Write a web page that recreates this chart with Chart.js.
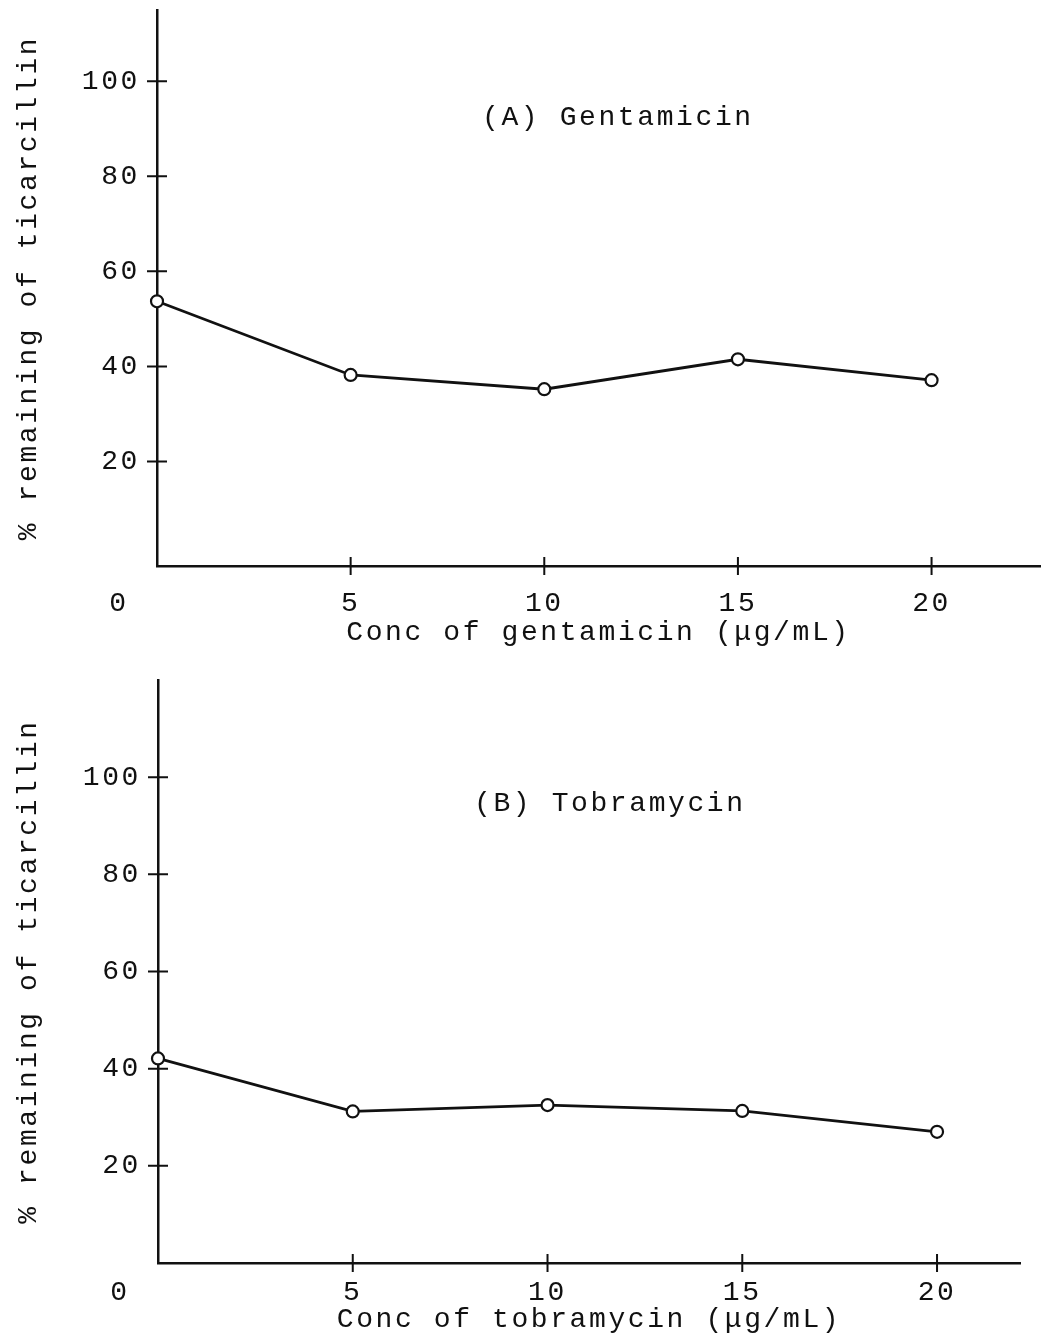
<!DOCTYPE html>
<html><head><meta charset="utf-8">
<script src="https://cdn.jsdelivr.net/npm/chart.js@4/dist/chart.umd.min.js"></script>
<style>
html,body{margin:0;padding:0;background:#fff;}
#wrap{position:relative;width:1052px;height:1336px;background:#fff;}
canvas{position:absolute;left:0;}
#cA{top:0}
#cB{top:668px}
</style></head><body>
<div id="wrap"><canvas id="cA" width="1052" height="668"></canvas><canvas id="cB" width="1052" height="668"></canvas></div>
<script>
// ---- data ----
const concentrations = [0, 5, 10, 15, 20];
const gentamicinRemaining = [53.7, 38.2, 35.2, 41.5, 37.1];
const tobramycinRemaining = [42.1, 31.2, 32.5, 31.3, 27.0];
const xTickValues = [5, 10, 15, 20];
const yTickValues = [20, 40, 60, 80, 100];
const originLabel = '0';
const yAxisTitle = '% remaining of ticarcillin';
const panelALabel = '(A) Gentamicin';
const panelBLabel = '(B) Tobramycin';
const panelAXTitle = 'Conc of gentamicin (μg/mL)';
const panelBXTitle = 'Conc of tobramycin (μg/mL)';

// ---- style ----
const INK = '#111';
const FONT = '"Liberation Mono", "DejaVu Sans Mono", monospace';
const FSIZE = 28;
const SPACING = '2.6px';

const spacingPlugin = {
  id: 'spacing',
  beforeUpdate(c) { c.ctx.letterSpacing = SPACING; },
  beforeLayout(c) { c.ctx.letterSpacing = SPACING; },
  beforeDraw(c) { c.ctx.letterSpacing = SPACING; }
};

const decoPlugin = {
  id: 'deco',
  afterDraw(c, args, o) {
    const {ctx, chartArea: a, scales: {x, y}} = c;
    ctx.save();
    ctx.letterSpacing = SPACING;
    ctx.strokeStyle = INK;
    ctx.lineWidth = 2;
    ctx.beginPath();
    y.ticks.forEach(t => { const p = y.getPixelForValue(t.value); ctx.moveTo(a.left - 10, p); ctx.lineTo(a.left + 10, p); });
    x.ticks.forEach(t => { const p = x.getPixelForValue(t.value); ctx.moveTo(p, a.bottom - 9); ctx.lineTo(p, a.bottom + 9); });
    ctx.stroke();
    ctx.fillStyle = INK;
    ctx.font = FSIZE + 'px ' + FONT;
    ctx.textAlign = 'center';
    ctx.textBaseline = 'middle';
    ctx.fillText(o.origin, a.left - 38, a.bottom + o.originDy);
    ctx.fillText(o.label, x.getPixelForValue(o.labelX), y.getPixelForValue(o.labelY));
    ctx.restore();
  }
};

function makePanel(id, values, cfg) {
  return new Chart(document.getElementById(id), {
    type: 'line',
    data: {
      datasets: [{
        data: concentrations.map((c, i) => ({x: c, y: values[i]})),
        borderColor: INK, borderWidth: 2.8,
        pointRadius: 6, pointBorderWidth: 2.2,
        pointBackgroundColor: '#fff', pointBorderColor: INK,
        tension: 0, clip: false
      }]
    },
    options: {
      responsive: false, animation: false, devicePixelRatio: 1,
      layout: {padding: cfg.padding},
      plugins: {
        legend: {display: false}, tooltip: {enabled: false},
        deco: {origin: originLabel, originDy: cfg.originDy, label: cfg.label, labelX: cfg.labelX, labelY: cfg.labelY}
      },
      scales: {
        x: {
          type: 'linear', min: 0, max: cfg.xMax,
          afterBuildTicks: s => { s.ticks = xTickValues.map(v => ({value: v})); },
          afterFit: s => { s.height = cfg.xAxisHeight; s.paddingLeft = 0; s.paddingRight = 0; },
          grid: {display: false, drawTicks: false},
          border: {display: true, color: INK, width: 2.5},
          ticks: {color: INK, font: {family: FONT, size: FSIZE}, padding: cfg.xLabelPad, maxRotation: 0, autoSkip: false},
          title: {display: true, text: cfg.xTitle, color: INK, font: {family: FONT, size: FSIZE}, padding: {top: 0, bottom: cfg.xTitlePad}}
        },
        y: {
          type: 'linear', min: cfg.yMin, max: cfg.yMax,
          afterBuildTicks: s => { s.ticks = yTickValues.map(v => ({value: v})); },
          afterFit: s => { s.width = cfg.yAxisWidth; s.paddingTop = 0; s.paddingBottom = 0; },
          grid: {display: false, drawTicks: false},
          border: {display: true, color: INK, width: 2.5},
          ticks: {color: INK, font: {family: FONT, size: FSIZE}, padding: 17, autoSkip: false},
          title: {display: true, text: yAxisTitle, color: INK, font: {family: FONT, size: FSIZE}, padding: {top: 12, bottom: 0}}
        }
      }
    },
    plugins: [spacingPlugin, decoPlugin]
  });
}

makePanel('cA', gentamicinRemaining, {
  padding: {top: 10, right: 12, left: 0, bottom: 0},
  xMax: 22.8, yMin: -2, yMax: 115,
  xAxisHeight: 102, yAxisWidth: 157,
  xLabelPad: 21, xTitlePad: 19, originDy: 37.5,
  xTitle: panelAXTitle, label: panelALabel, labelX: 11.9, labelY: 92.3
});
makePanel('cB', tobramycinRemaining, {
  padding: {top: 12, right: 32, left: 0, bottom: 0},
  xMax: 22.13, yMin: 0, yMax: 120,
  xAxisHeight: 73, yAxisWidth: 158,
  xLabelPad: 13, xTitlePad: 0, originDy: 30,
  xTitle: panelBXTitle, label: panelBLabel, labelX: 11.6, labelY: 94.6
});
</script>
</body></html>
